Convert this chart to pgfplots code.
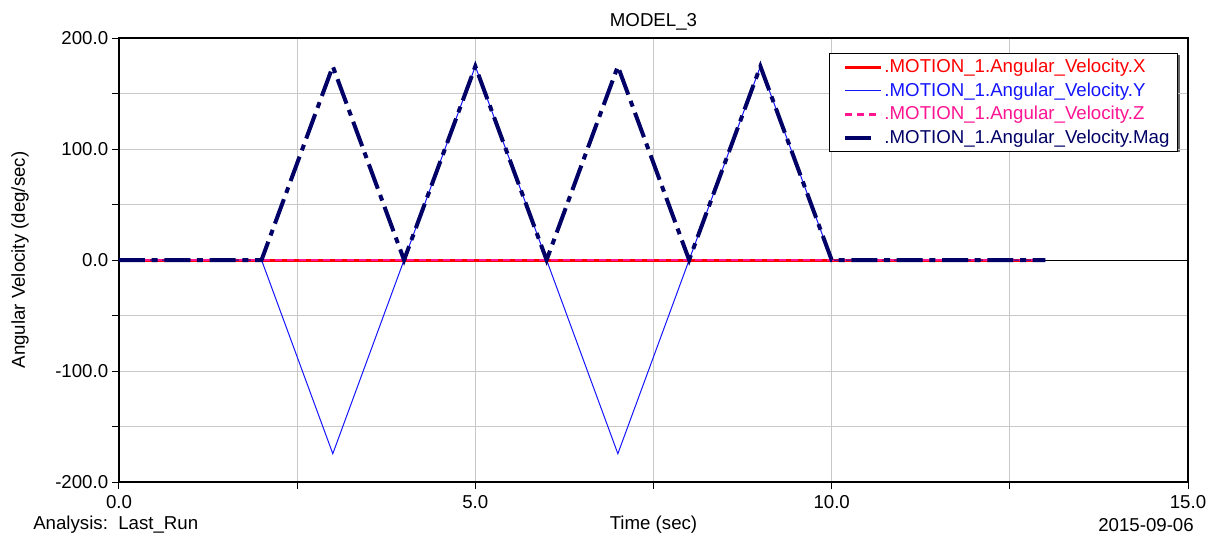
\documentclass[border=0pt]{standalone}
\usepackage{fontspec}
\setmainfont{Liberation Sans}
\usepackage{pgfplots}
\pgfplotsset{compat=1.18}
\definecolor{magcol}{RGB}{0,0,102}
\definecolor{zcol}{RGB}{255,20,147}
\definecolor{xcol}{RGB}{255,0,0}
\definecolor{ycol}{RGB}{20,20,255}
\definecolor{gridgray}{RGB}{200,200,200}
\pgfplotsset{maglegend/.style={legend image code/.code={\path (-5pt,0pt) (27pt,0pt); \draw[##1] (0pt,0pt) -- (20pt,0pt);}}}
\begin{document}
\fontsize{14}{16}\selectfont
\begin{tikzpicture}[x=0.75pt,y=0.75pt]
\useasboundingbox (-119,-55) rectangle (1092,482);
\fill[black!60] (711,330) rectangle (1061,427);
\begin{axis}[at={(0,0)}, anchor=south west, scale only axis,
  width=801.75pt, height=333pt,
  xmin=0, xmax=15, ymin=-200, ymax=200,
  xtick={0,5,10,15}, minor xtick={2.5,7.5,12.5},
  ytick={-200,-100,0,100,200}, minor ytick={-150,-50,50,150},
  grid=both,
  grid style={gridgray, line width=0.75pt},
  minor grid style={gridgray, line width=0.75pt},
  tick align=outside, xtick pos=bottom, ytick pos=left,
  major tick length=5.25pt, minor tick length=5.25pt,
  tick style={black, line width=0.75pt},
  axis line style={line width=1pt},
  /pgf/number format/fixed, /pgf/number format/fixed zerofill,
  /pgf/number format/precision=1, /pgf/number format/assume math mode=true,
  tick label style={font=\fontsize{14}{16}\selectfont},
  yticklabel style={xshift=2pt},
  title={MODEL\_3},
  title style={at={(0.5,1.018)}, anchor=center, yshift=0pt, font=\fontsize{14}{16}\selectfont},
  xlabel={Time (sec)},
  xlabel style={at={(0.5,-0.0968)}, anchor=center, font=\fontsize{14}{16}\selectfont},
  ylabel={Angular Velocity (deg/sec)},
  ylabel style={at={(-0.0926,0.5)}, anchor=center, font=\fontsize{14}{16}\selectfont},
  legend style={at={(0.9906,0.9662)}, anchor=north east, draw=black, line width=0.75pt,
    fill=white, font=\fontsize{14}{16}\selectfont,
    row sep=1.5pt, column sep=0pt, inner xsep=5pt, inner ysep=2pt,
    nodes={inner xsep=1pt}},
  legend cell align=left,
  legend image code/.code={\path (-5pt,0pt); \draw[#1] (0pt,0pt) -- (27pt,0pt);},
]
\addplot[black, line width=0.75pt, forget plot] coordinates {(0,0) (15,0)};
\addplot[xcol, line width=2.25pt] coordinates {(0,0) (13,0)};
\addlegendentry{\textcolor{xcol}{.MOTION\_1.Angular\_Velocity.X}}
\addplot[ycol, line width=0.75pt] coordinates {
(0,0) (2,0) (3,-174.5) (4,0) (5,174.5) (6,0) (7,-174.5) (8,0) (9,174.5) (10,0) (13,0)};
\addlegendentry{\textcolor{ycol}{.MOTION\_1.Angular\_Velocity.Y}}
\addplot[zcol, line width=2pt, dash pattern=on 5.5pt off 3.5pt] coordinates {(0,0) (13,0)};
\addlegendentry{\textcolor{zcol}{.MOTION\_1.Angular\_Velocity.Z}}
\addplot[magcol, line width=3pt, dash pattern=on 19.5pt off 5pt on 4.5pt off 5pt, maglegend] coordinates {
(0,0) (2,0) (3,174.5) (4,0) (5,174.5) (6,0) (7,174.5) (8,0) (9,174.5) (10,0) (13,0)};
\addlegendentry{\textcolor{magcol}{.MOTION\_1.Angular\_Velocity.Mag}}
\end{axis}
\node[anchor=west, inner sep=0pt] at (-86,-43) {Analysis:\ \ Last\_Run};
\node[anchor=west, inner sep=0pt] at (979,-43) {2015-09-06};
\end{tikzpicture}
\end{document}
